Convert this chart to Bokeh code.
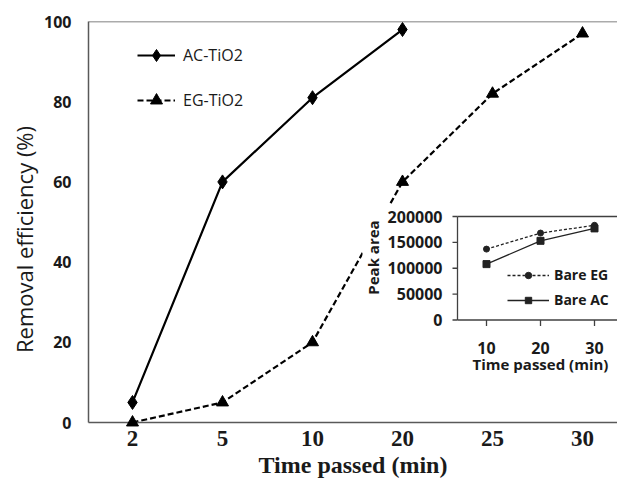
import math
from bokeh.plotting import figure
from bokeh.models import Range1d, FixedTicker, Span, Legend, LegendItem
from bokeh.core.properties import value
from bokeh.embed import file_html
from bokeh.resources import INLINE

# ---------------- data ----------------
times = ["2", "5", "10", "20", "25", "30"]
ac_tio2 = [5, 60, 81, 98]              # AC-TiO2 at the first four times
eg_tio2 = [0, 5, 20, 60, 82, 97]       # EG-TiO2
y_ticks = [0, 20, 40, 60, 80, 100]

inset_times = ["10", "20", "30"]
bare_eg = [137000, 168000, 183000]
bare_ac = [108000, 153000, 177000]
inset_y_ticks = [0, 50000, 100000, 150000, 200000]

# ---------------- layout constants (pixels) ----------------
W, H = 617, 491
FL, FT, FB, FR = 88, 21, 422, 617      # main frame edges
X0_PX, DX_PX = 132, 90                 # first category centre, spacing
IX0_PX, IDX_PX = 486, 54               # inset first category centre, spacing
IY0_PX, IY1_PX = 319.5, 216            # inset y=0 and y=top pixel
INK = "#1a1a1a"
AXC = "#595959"

def px2x(px):
    return (px - X0_PX) / DX_PX

def py2y(py):
    return (FB - py) / (FB - FT) * (y_ticks[-1] - y_ticks[0]) + y_ticks[0]

def px2ix(px):
    return (px - IX0_PX) / IDX_PX

ITOP = inset_y_ticks[-1]
def py2iy(py):
    return (IY0_PX - py) / (IY0_PX - IY1_PX) * ITOP

p = figure(width=W, height=H,
           x_range=Range1d(px2x(FL), px2x(FR)),
           y_range=Range1d(y_ticks[0], y_ticks[-1]),
           output_backend="svg", toolbar_location=None,
           min_border_left=FL, min_border_right=0,
           min_border_top=FT, min_border_bottom=H - FB,
           outline_line_color=None, background_fill_color="white",
           border_fill_color="white")
p.grid.visible = False
p.extra_x_ranges = {"ix": Range1d(px2ix(FL), px2ix(FR))}
p.extra_y_ranges = {"iy": Range1d(py2iy(FB), py2iy(FT))}

# axes
xa = p.xaxis[0]
xa.ticker = FixedTicker(ticks=list(range(len(times))))
xa.major_label_overrides = {i: t for i, t in enumerate(times)}
xa.axis_label = "Time passed (min)"
ya = p.yaxis[0]
ya.ticker = FixedTicker(ticks=y_ticks)
for ax in (xa, ya):
    ax.major_tick_out = 0
    ax.major_tick_in = 0
    ax.minor_tick_out = 0
    ax.minor_tick_in = 0
    ax.axis_line_color = AXC
    ax.axis_line_width = 1.5
    ax.major_label_text_color = INK
    ax.axis_label_text_color = INK
xa.major_label_text_font = "Liberation Serif"
xa.major_label_text_font_style = "bold"
xa.major_label_text_font_size = "23px"
xa.major_label_standoff = 8
xa.axis_label_text_font = "Liberation Serif"
xa.axis_label_text_font_style = "bold"
xa.axis_label_text_font_size = "24px"
xa.axis_label_standoff = 3
ya.major_label_text_font = "Open Sans"
ya.major_label_text_font_style = "bold"
ya.major_label_text_font_size = "16px"
ya.major_label_standoff = 17

p.add_layout(Span(location=y_ticks[-1], dimension="width",
                  line_color=AXC, line_width=1.5))

# y-axis title (placed as text so it can sit where the reference has it)
ytitle = p.text(x=[px2x(23)], y=[py2y(239)], text=["Removal efficiency (%)"],
                angle=math.pi / 2, text_align="center", text_baseline="middle",
                text_font=value("Open Sans"), text_font_size="22px", text_color=INK)
ytitle.level = "overlay"

# main series
ac_x = list(range(len(ac_tio2)))
eg_x = list(range(len(eg_tio2)))
r_ac_l = p.line(ac_x, ac_tio2, line_color="black", line_width=2.2)
r_eg_l = p.line(eg_x, eg_tio2, line_color="black", line_width=2.2, line_dash="6 3")
r_ac_p = p.scatter(ac_x, ac_tio2, marker="diamond", size=14, color="black")
r_eg_p = p.scatter(eg_x, eg_tio2, marker="triangle", size=12, color="black")
r_ac_p.level = "overlay"
r_eg_p.level = "overlay"

leg = Legend(items=[LegendItem(label="AC-TiO2", renderers=[r_ac_l, r_ac_p]),
                    LegendItem(label="EG-TiO2", renderers=[r_eg_l, r_eg_p])],
             location=(49, 307), orientation="vertical",
             border_line_color=None, background_fill_alpha=0,
             padding=0, margin=0, spacing=15,
             glyph_width=38, glyph_height=30, label_height=30,
             label_standoff=8, label_text_font="Open Sans",
             label_text_font_size="16px", label_text_color=INK)
p.add_layout(leg)

# ---------------- inset ----------------
R = dict(x_range_name="ix", y_range_name="iy")
p.quad(left=[px2ix(362)], right=[px2ix(FR + 10)], top=[py2iy(204)],
       bottom=[py2iy(388)], fill_color="white", line_color=None, **R)

in_left = px2ix(457)
in_right = px2ix(FR + 10)
p.multi_line(xs=[[in_left, in_left], [in_left, in_right], [in_left, in_right]],
             ys=[[0, ITOP], [0, 0], [ITOP, ITOP]],
             line_color="#404040", line_width=1.3, **R)
tick_len_x = 5 / IDX_PX
tick_len_y = 6 * ITOP / (IY0_PX - IY1_PX)
p.segment(x0=[in_left - tick_len_x] * len(inset_y_ticks), x1=[in_left] * len(inset_y_ticks),
          y0=inset_y_ticks, y1=inset_y_ticks, line_color="#404040", line_width=1.3, **R)
ix_idx = list(range(len(inset_times)))
p.segment(x0=ix_idx, x1=ix_idx, y0=[0] * len(ix_idx), y1=[-tick_len_y] * len(ix_idx),
          line_color="#404040", line_width=1.3, **R)

p.text(x=[px2ix(442)] * len(inset_y_ticks), y=inset_y_ticks,
       text=[str(v) for v in inset_y_ticks], text_align="right", text_baseline="middle",
       text_font=value("Open Sans"), text_font_style="bold", text_font_size="16px",
       text_color=INK, **R)
p.text(x=ix_idx, y=[py2iy(347)] * len(ix_idx), text=inset_times,
       text_align="center", text_baseline="middle",
       text_font=value("Open Sans"), text_font_style="bold", text_font_size="16px",
       text_color=INK, **R)
p.text(x=[1], y=[py2iy(363)], text=["Time passed (min)"],
       text_align="center", text_baseline="middle",
       text_font=value("Open Sans"), text_font_style="bold", text_font_size="15px",
       text_color=INK, **R)
p.text(x=[px2ix(372)], y=[py2iy(257)], text=["Peak area"], angle=math.pi / 2,
       text_align="center", text_baseline="middle",
       text_font=value("Open Sans"), text_font_style="bold", text_font_size="15px",
       text_color=INK, **R)

r_beg_l = p.line(ix_idx, bare_eg, line_color="#222222", line_width=1.3, line_dash="3 2", **R)
r_beg_p = p.scatter(ix_idx, bare_eg, marker="circle", size=6, color="#222222", **R)
r_bac_l = p.line(ix_idx, bare_ac, line_color="#222222", line_width=1.3, **R)
r_bac_p = p.scatter(ix_idx, bare_ac, marker="square", size=7, color="#222222", **R)

leg2 = Legend(items=[LegendItem(label="Bare EG", renderers=[r_beg_l, r_beg_p]),
                     LegendItem(label="Bare AC", renderers=[r_bac_l, r_bac_p])],
              location=(419, 113), orientation="vertical",
              border_line_color=None, background_fill_alpha=0,
              padding=0, margin=0, spacing=6,
              glyph_width=42, glyph_height=16, label_height=16,
              label_standoff=5, label_text_font="Open Sans",
              label_text_font_style="bold",
              label_text_font_size="14px", label_text_color=INK)
p.add_layout(leg2)

open("out.html", "w").write(file_html(p, INLINE))
